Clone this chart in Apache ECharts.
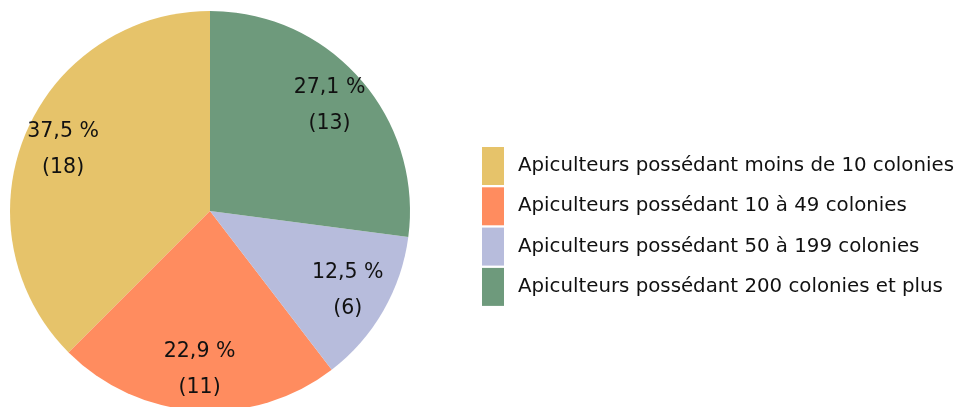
<!DOCTYPE html>
<html>
<head>
<meta charset="utf-8">
<script src="https://cdn.jsdelivr.net/npm/echarts@6/dist/echarts.min.js"></script>
<style>
html,body{margin:0;padding:0;background:#fff;}
#chart{width:960px;height:407px;}
</style>
</head>
<body>
<div id="chart"></div>
<script>
const categories = [
  "Apiculteurs possédant moins de 10 colonies",
  "Apiculteurs possédant 10 à 49 colonies",
  "Apiculteurs possédant 50 à 199 colonies",
  "Apiculteurs possédant 200 colonies et plus"
];
const counts = [18, 11, 6, 13];
const colors = ["#E6C36A", "#FF8C5F", "#B7BCDC", "#6E9A7C"];

const total = counts.reduce((a, b) => a + b, 0);
const pieData = categories.map((name, i) => ({ name: name, value: counts[i], itemStyle: { color: colors[i] } }));
const labelData = categories.map((name, i) => ({ name: name, value: counts[i] }));

const chart = echarts.init(document.getElementById('chart'), null, { renderer: 'canvas' });
chart.setOption({
  backgroundColor: '#ffffff',
  animation: false,
  legend: {
    orient: 'vertical',
    left: 482,
    top: 147,
    padding: 0,
    icon: 'rect',
    itemWidth: 22,
    itemHeight: 38,
    itemGap: 2.3,
    data: categories,
    textStyle: {
      fontFamily: 'DejaVu Sans',
      fontSize: 19.8,
      color: '#111111',
      padding: [0, 0, 8, 9]
    },
    selectedMode: false
  },
  series: [
    {
      type: 'pie',
      center: [210, 211],
      radius: [0, 200],
      startAngle: 90,
      clockwise: false,
      silent: true,
      label: { show: false },
      labelLine: { show: false },
      itemStyle: { borderWidth: 0 },
      data: pieData
    },
    {
      type: 'pie',
      center: [210, 211],
      radius: [112, 200],
      startAngle: 90,
      clockwise: false,
      silent: true,
      itemStyle: { color: 'rgba(0,0,0,0)', borderWidth: 0 },
      labelLine: { show: false },
      label: {
        show: true,
        position: 'inside',
        fontFamily: 'DejaVu Sans',
        fontSize: 20.5,
        lineHeight: 36,
        color: '#111111',
        formatter: function (p) {
          const pct = (p.value / total * 100).toFixed(1).replace('.', ',');
          return pct + ' %\n(' + p.value + ')';
        }
      },
      data: labelData
    }
  ]
});
</script>
</body>
</html>
